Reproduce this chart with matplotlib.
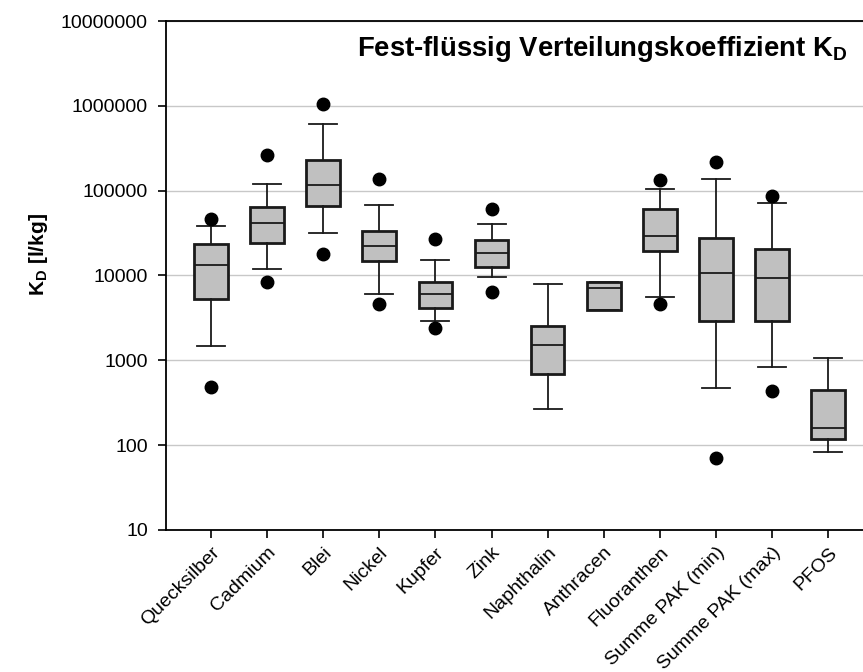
import matplotlib
matplotlib.use('Agg')
import matplotlib.pyplot as plt

plt.rcParams['font.family'] = ['Liberation Sans', 'DejaVu Sans']
plt.rcParams['mathtext.fontset'] = 'custom'
plt.rcParams['mathtext.rm'] = 'Liberation Sans'
plt.rcParams['mathtext.bf'] = 'Liberation Sans:bold'

# values (l/kg)
labels = ['Quecksilber', 'Cadmium', 'Blei', 'Nickel', 'Kupfer', 'Zink',
          'Naphthalin', 'Anthracen', 'Fluoranthen', 'Summe PAK (min)',
          'Summe PAK (max)', 'PFOS']
whislo = [1480, 11900, 31700, 6050, 2910, 9680, 265, 3880, 5530, 472, 835, 82]
q1 = [5240, 24200, 66000, 14700, 4140, 12600, 697, 3880, 19600, 2890, 2940, 119]
med = [13400, 41600, 117000, 22300, 6000, 18300, 1516, 7120, 29000, 10600, 9440, 159]
q3 = [23500, 64800, 230000, 33800, 8450, 26400, 2560, 8450, 60400, 27400, 20500, 444]
whishi = [38600, 120000, 611000, 68500, 15100, 40400, 7940, 8450, 105000, 137000, 72200, 1067]
fliers = [[481, 46400], [8450, 265000], [17900, 1040000], [4570, 137000],
          [2400, 26700], [6330, 60200], [], [], [4570, 132000], [70.6, 218000],
          [440, 86500], []]

stats = []
for i in range(len(labels)):
    stats.append(dict(label=labels[i], whislo=whislo[i], q1=q1[i], med=med[i],
                      q3=q3[i], whishi=whishi[i], fliers=fliers[i]))

fig = plt.figure(figsize=(8.63, 6.72), dpi=100)
ax = fig.add_axes([166/863, 1 - 530/672, 1 - 166/863, (530 - 21)/672])

pos = list(range(1, len(labels) + 1))
ax.bxp(stats, positions=pos, widths=0.6, capwidths=0.5, patch_artist=True,
       boxprops=dict(facecolor='#c0c0c0', edgecolor='#1a1a1a', linewidth=2),
       medianprops=dict(color='#1a1a1a', linewidth=1.3),
       whiskerprops=dict(color='#1a1a1a', linewidth=1.3),
       capprops=dict(color='#1a1a1a', linewidth=1.3),
       flierprops=dict(marker='o', markerfacecolor='black',
                       markeredgecolor='black', markersize=9))

ax.set_yscale('log')
ax.set_ylim(10, 1e7)
ax.set_xlim(0.198, 12.62)
ax.set_yticks([10, 100, 1000, 10000, 100000, 1000000, 10000000])
ax.set_yticklabels(['10', '100', '1000', '10000', '100000', '1000000', '10000000'])
ax.minorticks_off()
ax.yaxis.grid(True, color='#c8c8c8', linewidth=1)
ax.set_axisbelow(True)
ax.set_xticks(pos)
ax.set_xticklabels(labels, rotation=45, ha='right', rotation_mode='anchor')
ax.tick_params(axis='both', labelsize=14, length=6, width=1.2, direction='out')
ax.tick_params(axis='x', pad=4)
ax.tick_params(axis='y', pad=7)
for s in ['left', 'bottom', 'top']:
    ax.spines[s].set_linewidth(1.3)
ax.spines['right'].set_visible(False)

fig.text(848/863, 1 - 56/672, r'Fest-flüssig Verteilungskoeffizient K$_\mathbf{D}$',
         ha='right', va='baseline', fontsize=19.8, fontweight='bold')
fig.text(38/863, 1 - 254/672, r'K$_\mathbf{D}$ [l/kg]', rotation=90,
         ha='center', va='center', fontsize=15, fontweight='bold')

fig.savefig('out.png', dpi=100)
